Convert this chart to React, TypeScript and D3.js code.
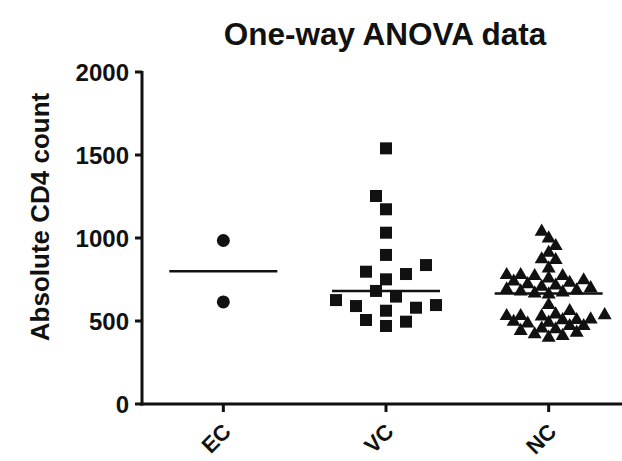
import React from "react";
import * as d3 from "d3";

const categories = ["EC", "VC", "NC"];
const ecValues = [985, 615];
const vcValues = [1540, 1253, 1173, 1032, 898, 837, 797, 783, 751, 681, 647, 626, 596, 590, 580, 562, 506, 496, 470];
const ncValues = [
  1038, 998, 952, 911, 872, 867, 817, 777, 777, 771, 771, 757,
  745, 738, 730, 722, 714, 706, 698, 690, 684, 678, 672, 666, 660,
  596, 560, 540, 535, 530, 530, 528,
  510, 506, 505, 495, 490, 485, 470, 470, 455, 450, 440, 430, 420, 410, 400,
];
const yTicks = [0, 500, 1000, 1500, 2000];
const title = "One-way ANOVA data";
const yLabel = "Absolute CD4 count";

const W = 622, H = 461;
const FONT = "'Liberation Sans', Arial, Helvetica, sans-serif";

function swarm(values: number[], y: (v: number) => number, dist: number, step: number) {
  const placed: { x: number; y: number; v: number }[] = [];
  const sorted = [...values].sort((a, b) => a - b);
  let flip = 1;
  for (const v of sorted) {
    const py = y(v);
    let k = 0;
    let done = false;
    while (!done) {
      const cands = k === 0 ? [0] : [flip * k * step, -flip * k * step];
      for (const c of cands) {
        const ok = placed.every((p) => Math.hypot(p.x - c, p.y - py) >= dist);
        if (ok) {
          placed.push({ x: c, y: py, v });
          done = true;
          if (c !== 0) flip = c > 0 ? -1 : 1;
          break;
        }
      }
      k++;
    }
  }
  return placed;
}

export default function App() {
  const x = d3.scaleBand<string>().domain(categories).range([142, 630]);
  const y = d3.scaleLinear().domain([0, 2000]).range([404, 72]);
  const cx = (c: string) => (x(c) as number) + x.bandwidth() / 2;
  const groups = [ecValues, vcValues, ncValues];
  const triangle = d3.symbol().type(d3.symbolTriangle).size(85)();

  return (
    <svg width={W} height={H} style={{ position: "absolute", left: 0, top: 0, background: "#fff" }} fontFamily={FONT}>
      <rect width={W} height={H} fill="#fff" />
      <text x={385} y={45} textAnchor="middle" fontSize={31.5} fontWeight="bold" fill="#111">{title}</text>
      <text transform={`translate(49, 217) rotate(-90)`} textAnchor="middle" fontSize={26} fontWeight="bold" fill="#111">{yLabel}</text>

      {/* y axis */}
      <line x1={142} x2={142} y1={y(2000) - 1} y2={y(0) + 1.5} stroke="#111" strokeWidth={3} />
      {yTicks.map((t) => (
        <g key={t}>
          <line x1={135} x2={142} y1={y(t)} y2={y(t)} stroke="#111" strokeWidth={3} />
          <text x={129} y={y(t)} dy="0.36em" textAnchor="end" fontSize={24} fontWeight="bold" fill="#111">{t}</text>
        </g>
      ))}
      {/* x axis */}
      <line x1={140.5} x2={W} y1={y(0)} y2={y(0)} stroke="#111" strokeWidth={3} />
      {categories.map((c) => (
        <g key={c}>
          <line x1={cx(c)} x2={cx(c)} y1={y(0)} y2={y(0) + 8} stroke="#111" strokeWidth={3} />
          <text transform={`translate(${cx(c) + 9}, ${y(0) + 29}) rotate(-45)`} textAnchor="end" fontSize={22} fontWeight="bold" fill="#111">{c}</text>
        </g>
      ))}

      {groups.map((vals, gi) => {
        const c = categories[gi];
        const center = cx(c);
        const med = d3.median(vals) as number;
        const pts = swarm(vals, y, gi === 2 ? 9 : 15, gi === 2 ? 7 : 10);
        return (
          <g key={c}>
            {pts.map((p, i) =>
              gi === 0 ? (
                <circle key={i} cx={center + p.x} cy={p.y} r={6.5} fill="#111" />
              ) : gi === 1 ? (
                <rect key={i} x={center + p.x - 6} y={p.y - 6} width={12} height={12} fill="#111" />
              ) : (
                <path key={i} d={triangle as string} transform={`translate(${center + p.x}, ${p.y})`} fill="#111" />
              )
            )}
            <line x1={center - 54} x2={center + 54} y1={y(med)} y2={y(med)} stroke="#111" strokeWidth={2.5} />
          </g>
        );
      })}
    </svg>
  );
}
